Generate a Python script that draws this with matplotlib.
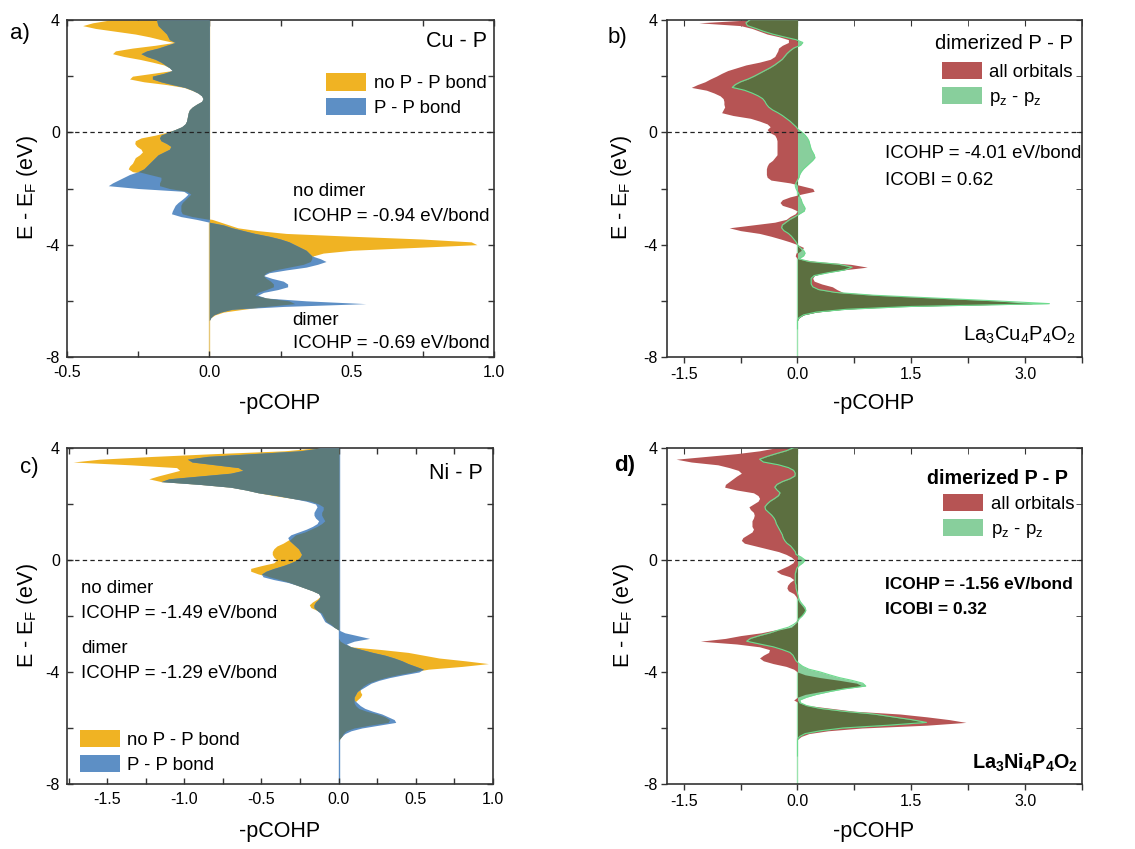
import numpy as np
import matplotlib
matplotlib.use("Agg")
import matplotlib.pyplot as plt
from matplotlib.patches import Patch
from matplotlib.ticker import MultipleLocator, FormatStrFormatter

plt.rcParams['font.family'] = ['Liberation Sans', 'DejaVu Sans']
plt.rcParams['mathtext.fontset'] = 'custom'
plt.rcParams['mathtext.rm'] = 'Liberation Sans'
plt.rcParams['mathtext.it'] = 'Liberation Sans:italic'
plt.rcParams['mathtext.bf'] = 'Liberation Sans:bold'
plt.rcParams['axes.unicode_minus'] = False

# ---------------- data (energy grid, eV) ----------------
ENERGY = [4.0, 3.9, 3.8, 3.7, 3.6, 3.5, 3.4, 3.3, 3.2, 3.1,
          3.0, 2.9, 2.8, 2.7, 2.6, 2.5, 2.4, 2.3, 2.2, 2.1,
          2.0, 1.9, 1.8, 1.7, 1.6, 1.5, 1.4, 1.3, 1.2, 1.1,
          1.0, 0.9, 0.8, 0.7, 0.6, 0.5, 0.4, 0.3, 0.2, 0.1,
          0.0, -0.1, -0.2, -0.3, -0.4, -0.5, -0.6, -0.7, -0.8, -0.9,
          -1.0, -1.1, -1.2, -1.3, -1.4, -1.5, -1.6, -1.7, -1.8, -1.9,
          -2.0, -2.1, -2.2, -2.3, -2.4, -2.5, -2.6, -2.7, -2.8, -2.9,
          -3.0, -3.1, -3.2, -3.3, -3.4, -3.5, -3.6, -3.7, -3.8, -3.9,
          -4.0, -4.1, -4.2, -4.3, -4.4, -4.5, -4.6, -4.7, -4.8, -4.9,
          -5.0, -5.1, -5.2, -5.3, -5.4, -5.5, -5.6, -5.7, -5.8, -5.9,
          -6.0, -6.1, -6.2, -6.3, -6.4, -6.5, -6.6, -6.7, -6.8, -6.9,
          -7.0]

# a) Cu - P
CU_P_NO_PP = [-0.35, -0.41, -0.445, -0.40, -0.33, -0.26, -0.21, -0.17, -0.125, -0.19,
              -0.27, -0.33, -0.34, -0.30, -0.245, -0.20, -0.16, -0.14, -0.13, -0.20,
              -0.27, -0.28, -0.23, -0.15, -0.09, -0.062, -0.04, -0.027, -0.022, -0.027,
              -0.045, -0.06, -0.07, -0.074, -0.076, -0.078, -0.08, -0.085, -0.097, -0.12,
              -0.15, -0.19, -0.24, -0.26, -0.262, -0.255, -0.24, -0.235, -0.245, -0.26,
              -0.265, -0.27, -0.28, -0.285, -0.27, -0.21, -0.17, -0.17, -0.175, -0.175,
              -0.14, -0.08, -0.065, -0.075, -0.085, -0.095, -0.10, -0.10, -0.10, -0.095,
              -0.06, 0.01, 0.04, 0.07, 0.10, 0.17, 0.27, 0.50, 0.75, 0.92,
              0.94, 0.72, 0.50, 0.40, 0.365, 0.36, 0.355, 0.33, 0.28, 0.23,
              0.20, 0.19, 0.20, 0.215, 0.225, 0.225, 0.20, 0.17, 0.16, 0.20,
              0.28, 0.30, 0.20, 0.12, 0.05, 0.02, 0.005, 0.0, 0.0, 0.0,
              0.0]
CU_P_PP = [-0.185, -0.183, -0.18, -0.17, -0.16, -0.15, -0.145, -0.14, -0.12, -0.15,
           -0.18, -0.22, -0.24, -0.22, -0.19, -0.17, -0.155, -0.14, -0.13, -0.16,
           -0.20, -0.20, -0.17, -0.13, -0.085, -0.06, -0.04, -0.027, -0.022, -0.027,
           -0.045, -0.06, -0.07, -0.074, -0.076, -0.078, -0.08, -0.085, -0.097, -0.12,
           -0.145, -0.17, -0.175, -0.17, -0.15, -0.135, -0.14, -0.16, -0.18, -0.19,
           -0.20, -0.21, -0.22, -0.23, -0.25, -0.28, -0.30, -0.32, -0.34, -0.355,
           -0.25, -0.09, -0.075, -0.085, -0.097, -0.11, -0.12, -0.125, -0.13, -0.133,
           -0.10, -0.045, 0.0, 0.05, 0.08, 0.12, 0.16, 0.21, 0.25, 0.28,
           0.30, 0.32, 0.34, 0.35, 0.36, 0.39, 0.41, 0.38, 0.34, 0.27,
           0.21, 0.19, 0.22, 0.26, 0.275, 0.275, 0.24, 0.19, 0.17, 0.20,
           0.34, 0.55, 0.26, 0.08, 0.04, 0.015, 0.005, 0.0, 0.0, 0.0,
           0.0]

# b) La3Cu4P4O2 dimerized P - P
CU_DIMER_ALL = [-0.65, -1.30, -0.75, -0.60, -0.50, -0.40, -0.24, -0.12, -0.12, -0.20,
                -0.25, -0.26, -0.28, -0.30, -0.36, -0.50, -0.68, -0.80, -0.92, -1.00,
                -1.07, -1.15, -1.22, -1.32, -1.40, -1.20, -1.10, -1.02, -0.98, -0.97,
                -0.97, -0.96, -0.98, -1.00, -0.85, -0.62, -0.50, -0.40, -0.36, -0.40,
                -0.37, -0.30, -0.28, -0.27, -0.27, -0.27, -0.27, -0.27, -0.27, -0.30,
                -0.33, -0.38, -0.40, -0.41, -0.41, -0.41, -0.40, -0.35, -0.10, 0.05,
                0.20, 0.22, 0.05, -0.10, -0.20, -0.23, -0.20, -0.08, 0.0, -0.03,
                -0.10, -0.15, -0.30, -0.60, -0.90, -0.75, -0.50, -0.35, -0.22, -0.10,
                0.0, 0.08, 0.05, -0.02, -0.03, 0.0, 0.25, 0.70, 0.92, 0.60,
                0.35, 0.22, 0.20, 0.22, 0.32, 0.46, 0.52, 0.60, 1.10, 1.90,
                2.60, 3.10, 1.30, 0.60, 0.25, 0.08, 0.02, 0.0, 0.0, 0.0,
                0.0]
CU_DIMER_PZ = [-0.63, -0.68, -0.66, -0.55, -0.45, -0.33, -0.18, -0.02, 0.07, 0.04,
               -0.05, -0.10, -0.14, -0.17, -0.20, -0.25, -0.30, -0.36, -0.43, -0.50,
               -0.57, -0.65, -0.75, -0.82, -0.86, -0.70, -0.60, -0.52, -0.46, -0.43,
               -0.41, -0.38, -0.33, -0.26, -0.20, -0.15, -0.10, -0.06, -0.02, 0.01,
               0.06, 0.10, 0.13, 0.15, 0.16, 0.17, 0.18, 0.20, 0.22, 0.23,
               0.20, 0.16, 0.12, 0.08, 0.05, 0.03, 0.02, 0.0, -0.02, -0.03,
               -0.02, 0.0, 0.02, 0.03, 0.05, 0.06, 0.08, 0.10, 0.09, 0.03,
               -0.03, -0.10, -0.15, -0.20, -0.21, -0.18, -0.12, -0.08, -0.05, -0.02,
               0.0, 0.03, 0.08, 0.10, 0.08, 0.02, 0.15, 0.55, 0.72, 0.62,
               0.40, 0.22, 0.18, 0.18, 0.18, 0.20, 0.28, 0.50, 1.00, 1.80,
               2.60, 3.32, 1.50, 0.65, 0.25, 0.08, 0.02, 0.0, 0.0, 0.0,
               0.0]

# c) Ni - P
NI_P_NO_PP = [-0.15, -0.35, -0.80, -1.20, -1.55, -1.72, -1.35, -1.05, -1.03, -1.10,
              -1.17, -1.23, -1.15, -0.90, -0.70, -0.60, -0.52, -0.42, -0.30, -0.18,
              -0.13, -0.10, -0.10, -0.11, -0.11, -0.10, -0.09, -0.11, -0.14, -0.18,
              -0.22, -0.28, -0.30, -0.33, -0.36, -0.40, -0.42, -0.43, -0.43, -0.42,
              -0.40, -0.42, -0.50, -0.57, -0.57, -0.52, -0.45, -0.38, -0.32, -0.27,
              -0.22, -0.17, -0.13, -0.12, -0.14, -0.17, -0.19, -0.18, -0.14, -0.11,
              -0.10, -0.09, -0.08, -0.05, -0.03, 0.0, 0.0, 0.0, 0.0, 0.01,
              0.04, 0.08, 0.28, 0.45, 0.55, 0.65, 0.82, 0.97, 0.80, 0.58,
              0.48, 0.38, 0.30, 0.24, 0.19, 0.16, 0.14, 0.14, 0.15, 0.14,
              0.12, 0.10, 0.11, 0.13, 0.18, 0.25, 0.30, 0.33, 0.32, 0.20,
              0.10, 0.05, 0.03, 0.02, 0.005, 0.0, 0.0, 0.0, 0.0, 0.0,
              0.0]
NI_P_PP = [-0.12, -0.25, -0.55, -0.85, -0.98, -0.95, -0.80, -0.65, -0.62, -0.70,
           -0.90, -1.10, -1.15, -0.90, -0.70, -0.60, -0.52, -0.40, -0.30, -0.21,
           -0.15, -0.14, -0.15, -0.16, -0.16, -0.15, -0.13, -0.14, -0.17, -0.21,
           -0.26, -0.31, -0.33, -0.32, -0.30, -0.28, -0.26, -0.25, -0.24, -0.25,
           -0.27, -0.31, -0.36, -0.42, -0.47, -0.50, -0.49, -0.42, -0.33, -0.27,
           -0.22, -0.17, -0.13, -0.12, -0.13, -0.15, -0.16, -0.16, -0.14, -0.12,
           -0.11, -0.10, -0.09, -0.06, -0.03, 0.0, 0.04, 0.12, 0.20, 0.10,
           0.05, 0.08, 0.15, 0.22, 0.30, 0.36, 0.41, 0.45, 0.50, 0.55,
           0.52, 0.42, 0.33, 0.26, 0.21, 0.18, 0.15, 0.12, 0.11, 0.10,
           0.10, 0.12, 0.14, 0.17, 0.22, 0.28, 0.32, 0.36, 0.37, 0.26,
           0.15, 0.08, 0.04, 0.02, 0.005, 0.0, 0.0, 0.0, 0.0, 0.0,
           0.0]

# d) La3Ni4P4O2 dimerized P - P
NI_DIMER_ALL = [-0.30, -0.50, -0.80, -1.20, -1.60, -1.40, -1.05, -0.90, -0.78, -0.74,
                -0.80, -0.85, -0.90, -0.95, -0.96, -0.80, -0.58, -0.52, -0.50, -0.52,
                -0.58, -0.64, -0.62, -0.58, -0.57, -0.58, -0.60, -0.60, -0.60, -0.58,
                -0.60, -0.66, -0.72, -0.74, -0.70, -0.55, -0.40, -0.25, -0.15, -0.08,
                -0.04, -0.06, -0.12, -0.20, -0.28, -0.22, -0.10, -0.05, -0.10, -0.13,
                -0.14, -0.12, -0.05, -0.02, 0.0, 0.02, 0.05, 0.08, 0.10, 0.08,
                0.05, 0.0, -0.02, -0.04, -0.08, -0.30, -0.48, -0.75, -0.95, -1.28,
                -0.80, -0.50, -0.37, -0.38, -0.45, -0.50, -0.45, -0.32, -0.15, -0.05,
                0.0, 0.10, 0.30, 0.56, 0.78, 0.85, 0.55, 0.30, 0.10, 0.0,
                -0.05, 0.02, 0.15, 0.45, 0.75, 1.35, 1.70, 2.00, 2.22, 1.70,
                0.85, 0.40, 0.15, 0.05, 0.0, 0.0, 0.0, 0.0, 0.0, 0.0,
                0.0]
NI_DIMER_PZ = [-0.06, -0.15, -0.28, -0.40, -0.50, -0.45, -0.25, -0.12, -0.05, -0.03,
               -0.035, -0.10, -0.20, -0.27, -0.30, -0.27, -0.23, -0.25, -0.30, -0.36,
               -0.40, -0.43, -0.42, -0.38, -0.34, -0.31, -0.29, -0.28, -0.26, -0.24,
               -0.22, -0.20, -0.19, -0.17, -0.14, -0.09, -0.06, -0.03, -0.02, 0.05,
               0.10, 0.07, 0.02, -0.01, -0.02, -0.03, -0.03, -0.03, -0.03, -0.02,
               -0.02, -0.01, 0.0, 0.01, 0.02, 0.04, 0.07, 0.10, 0.11, 0.09,
               0.06, 0.02, 0.0, -0.05, -0.12, -0.25, -0.36, -0.50, -0.62, -0.67,
               -0.50, -0.32, -0.20, -0.10, -0.06, -0.04, -0.02, 0.02, 0.07, 0.15,
               0.30, 0.42, 0.55, 0.72, 0.86, 0.90, 0.62, 0.42, 0.25, 0.12,
               0.03, 0.04, 0.12, 0.30, 0.60, 1.00, 1.25, 1.50, 1.70, 1.20,
               0.60, 0.30, 0.10, 0.03, 0.0, 0.0, 0.0, 0.0, 0.0, 0.0,
               0.0]

for s in (CU_P_NO_PP, CU_P_PP, CU_DIMER_ALL, CU_DIMER_PZ,
          NI_P_NO_PP, NI_P_PP, NI_DIMER_ALL, NI_DIMER_PZ):
    assert len(s) == len(ENERGY), len(s)

# ---------------- styling ----------------
ORANGE = '#F0B323'
BLUE = '#5D8FC5'
SLATE = '#5C7B7B'
RED = '#B65454'
GREEN = '#88CF9C'
OLIVE = '#5C6F40'
GREEN_LINE = '#6EDB8E'
SPINE = '#333333'

W, H = 1135, 849
fig = plt.figure(figsize=(W / 100, H / 100), dpi=100)


def add_axes(l, t, r, b):
    return fig.add_axes([l / W, 1 - b / H, (r - l) / W, (b - t) / H])


def overlap(a, b):
    a = np.asarray(a, float)
    b = np.asarray(b, float)
    same = np.sign(a) == np.sign(b)
    return np.where(same, np.sign(a) * np.minimum(np.abs(a), np.abs(b)), 0.0)


def draw(ax, s1, s2, c1, c2, cov, zline, outline=None):
    e = np.asarray(ENERGY)
    ax.axvline(0, color=zline, lw=1.0, zorder=1)
    ax.fill_betweenx(e, 0, s1, color=c1, lw=0, zorder=2)
    ax.fill_betweenx(e, 0, s2, color=c2, lw=0, zorder=3)
    ax.fill_betweenx(e, 0, overlap(s1, s2), color=cov, lw=0, zorder=4)
    if outline:
        ax.plot(s2, e, color=outline, lw=0.8, zorder=5)
    ax.axhline(0, color='#222222', lw=0.9, ls=(0, (3.5, 2.6)), zorder=6)
    ax.set_ylim(-8, 4)
    ax.yaxis.set_major_locator(MultipleLocator(4))
    ax.yaxis.set_minor_locator(MultipleLocator(2))
    ax.yaxis.set_major_formatter(FormatStrFormatter('%d'))
    ax.xaxis.set_major_formatter(FormatStrFormatter('%.1f'))
    for sp in ax.spines.values():
        sp.set_color(SPINE)
        sp.set_linewidth(1.2)


def style_in(ax, xmaj, xmin):
    ax.xaxis.set_major_locator(MultipleLocator(xmaj))
    ax.xaxis.set_minor_locator(MultipleLocator(xmin))
    ax.tick_params(which='both', direction='in', top=True, right=True,
                   color=SPINE, width=1.0, labelsize=11.5)
    ax.tick_params(which='major', length=4)
    ax.tick_params(which='minor', length=4)
    ax.tick_params(axis='x', pad=6)
    ax.tick_params(axis='y', pad=5)


def style_out(ax, xmaj, xmin):
    ax.xaxis.set_major_locator(MultipleLocator(xmaj))
    ax.xaxis.set_minor_locator(MultipleLocator(xmin))
    ax.tick_params(which='both', direction='out', color=SPINE, width=1.0,
                   labelsize=11.5, length=4)
    ax.tick_params(axis='x', pad=3)
    ax.tick_params(axis='y', pad=3)
    sx = ax.secondary_xaxis('top')
    sx.xaxis.set_major_locator(MultipleLocator(xmaj))
    sx.xaxis.set_minor_locator(MultipleLocator(xmin))
    sx.tick_params(which='both', direction='in', length=4, color=SPINE, labeltop=False)
    sx.spines['top'].set_visible(False)
    sy = ax.secondary_yaxis('right')
    sy.yaxis.set_major_locator(MultipleLocator(4))
    sy.yaxis.set_minor_locator(MultipleLocator(2))
    sy.tick_params(which='both', direction='in', length=4, color=SPINE, labelright=False)
    sy.spines['right'].set_visible(False)


def legend(ax, labels, colors, x, y):
    handles = [Patch(facecolor=c, edgecolor='none', label=l) for l, c in zip(labels, colors)]
    ax.legend(handles=handles, loc='upper left', bbox_to_anchor=(x, y), frameon=False,
              fontsize=13.4, handlelength=2.15, handleheight=1.05, handletextpad=0.4,
              labelspacing=0.32, borderpad=0, borderaxespad=0)


ANN = 13.4

# ---- a) ----
ax_a = add_axes(67, 20, 494, 357)
draw(ax_a, CU_P_NO_PP, CU_P_PP, ORANGE, BLUE, SLATE, '#E6C777')
ax_a.set_xlim(-0.5, 1.0)
style_in(ax_a, 0.5, 0.25)
ax_a.text(0.977, 3.23, 'Cu - P', ha='right', va='center', fontsize=15.5)
legend(ax_a, ['no P - P bond', 'P - P bond'], [ORANGE, BLUE], 0.607, 0.842)
ax_a.text(0.293, -2.11, 'no dimer', ha='left', va='center', fontsize=ANN)
ax_a.text(0.293, -3.0, 'ICOHP = -0.94 eV/bond', ha='left', va='center', fontsize=ANN)
ax_a.text(0.293, -6.69, 'dimer', ha='left', va='center', fontsize=ANN)
ax_a.text(0.293, -7.52, 'ICOHP = -0.69 eV/bond', ha='left', va='center', fontsize=ANN)

# ---- b) ----
ax_b = add_axes(667, 20, 1082, 357)
draw(ax_b, CU_DIMER_ALL, CU_DIMER_PZ, RED, GREEN, OLIVE, '#9BE3AE', outline=GREEN_LINE)
ax_b.set_xlim(-1.72, 3.75)
style_out(ax_b, 1.5, 0.75)
ax_b.text(3.63, 3.17, 'dimerized P - P', ha='right', va='center', fontsize=14.6)
legend(ax_b, ['all orbitals', r'p$_\mathrm{z}$ - p$_\mathrm{z}$'], [RED, GREEN], 0.662, 0.876)
ax_b.text(1.15, -0.77, 'ICOHP = -4.01 eV/bond', ha='left', va='center', fontsize=ANN)
ax_b.text(1.15, -1.70, 'ICOBI = 0.62', ha='left', va='center', fontsize=ANN)
ax_b.text(3.67, -7.22, r'La$_3$Cu$_4$P$_4$O$_2$', ha='right', va='center', fontsize=14.6)

# ---- c) ----
ax_c = add_axes(67, 448, 493, 784)
draw(ax_c, NI_P_NO_PP, NI_P_PP, ORANGE, BLUE, SLATE, BLUE)
ax_c.set_xlim(-1.76, 1.0)
style_in(ax_c, 0.5, 0.25)
ax_c.text(0.935, 3.1, 'Ni - P', ha='right', va='center', fontsize=15.5)
ax_c.text(-1.667, -1.01, 'no dimer', ha='left', va='center', fontsize=ANN)
ax_c.text(-1.667, -1.91, 'ICOHP = -1.49 eV/bond', ha='left', va='center', fontsize=ANN)
ax_c.text(-1.667, -3.16, 'dimer', ha='left', va='center', fontsize=ANN)
ax_c.text(-1.667, -4.06, 'ICOHP = -1.29 eV/bond', ha='left', va='center', fontsize=ANN)
legend(ax_c, ['no P - P bond', 'P - P bond'], [ORANGE, BLUE], 0.03, 0.161)

# ---- d) ----
ax_d = add_axes(667, 448, 1082, 784)
draw(ax_d, NI_DIMER_ALL, NI_DIMER_PZ, RED, GREEN, OLIVE, '#9BE3AE', outline=GREEN_LINE)
ax_d.set_xlim(-1.72, 3.75)
style_out(ax_d, 1.5, 0.75)
ax_d.text(3.56, 2.92, 'dimerized P - P', ha='right', va='center', fontsize=14.2, fontweight='bold')
legend(ax_d, ['all orbitals', r'p$_\mathrm{z}$ - p$_\mathrm{z}$'], [RED, GREEN], 0.666, 0.863)
ax_d.text(1.15, -0.86, 'ICOHP = -1.56 eV/bond', ha='left', va='center', fontsize=12.5, fontweight='bold')
ax_d.text(1.15, -1.75, 'ICOBI = 0.32', ha='left', va='center', fontsize=12.5, fontweight='bold')
ax_d.text(3.69, -7.26, r'La$_\mathbf{3}$Ni$_\mathbf{4}$P$_\mathbf{4}$O$_\mathbf{2}$', ha='right', va='center',
          fontsize=14.2, fontweight='bold')

# ---- axis labels & panel letters ----
YL = r'E - E$_\mathrm{F}$ (eV)'
for x, yc in ((27, 188), (622, 188), (27, 616), (623, 616)):
    fig.text(x / W, 1 - yc / H, YL, rotation=90, ha='center', va='center', fontsize=15.5)
for xc, yc in ((280, 403), (874, 403), (280, 832), (874, 832)):
    fig.text(xc / W, 1 - yc / H, '-pCOHP', ha='center', va='center', fontsize=15.5)
fig.text(20 / W, 1 - 33 / H, 'a)', ha='center', va='center', fontsize=16)
fig.text(617 / W, 1 - 37 / H, 'b)', ha='center', va='center', fontsize=16)
fig.text(29 / W, 1 - 467 / H, 'c)', ha='center', va='center', fontsize=16)
fig.text(625 / W, 1 - 465 / H, 'd)', ha='center', va='center', fontsize=16, fontweight='bold')

fig.savefig('out.png', dpi=100)
